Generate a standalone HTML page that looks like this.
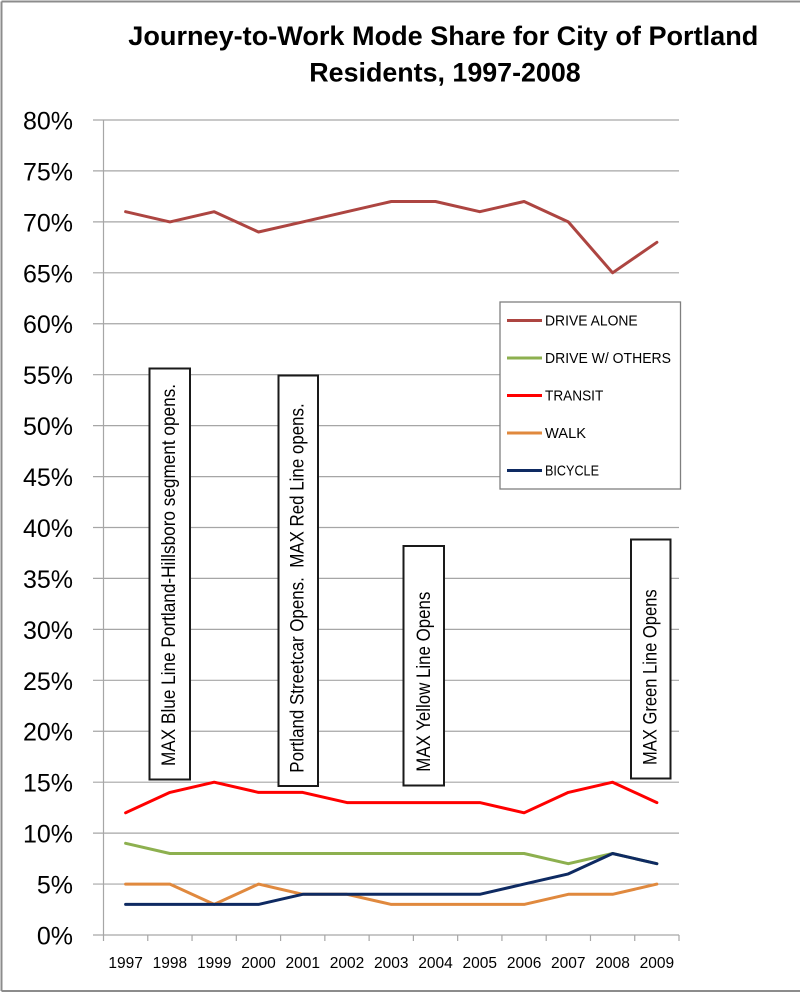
<!DOCTYPE html>
<html>
<head>
<meta charset="utf-8">
<style>
html,body{margin:0;padding:0;background:#fff;}
svg{display:block;}
text{font-family:"Liberation Sans",sans-serif;fill:#000;}
</style>
</head>
<body>
<svg width="800" height="993" viewBox="0 0 800 993" xmlns="http://www.w3.org/2000/svg">
<rect x="0" y="0" width="800" height="993" fill="#fff"/>
<!-- outer frame -->
<line x1="1.5" y1="1.5" x2="800" y2="1.5" stroke="#8c8c8c" stroke-width="2"/>
<line x1="1.5" y1="1.5" x2="1.5" y2="991" stroke="#8c8c8c" stroke-width="2"/>
<line x1="1.5" y1="991" x2="800" y2="991" stroke="#8c8c8c" stroke-width="2"/>

<!-- title -->
<text x="128.3" y="45" font-size="27" font-weight="bold" textLength="630" lengthAdjust="spacingAndGlyphs">Journey-to-Work Mode Share for City of Portland</text>
<text x="309.3" y="81.7" font-size="27" font-weight="bold" textLength="271.4" lengthAdjust="spacingAndGlyphs">Residents, 1997-2008</text>

<!-- gridlines -->
<g stroke="#a6a6a6" stroke-width="1.2">
<line x1="93" y1="120" x2="679" y2="120"/>
<line x1="93" y1="170.9" x2="679" y2="170.9"/>
<line x1="93" y1="221.9" x2="679" y2="221.9"/>
<line x1="93" y1="272.8" x2="679" y2="272.8"/>
<line x1="93" y1="323.75" x2="679" y2="323.75"/>
<line x1="93" y1="374.7" x2="679" y2="374.7"/>
<line x1="93" y1="425.6" x2="679" y2="425.6"/>
<line x1="93" y1="476.6" x2="679" y2="476.6"/>
<line x1="93" y1="527.5" x2="679" y2="527.5"/>
<line x1="93" y1="578.4" x2="679" y2="578.4"/>
<line x1="93" y1="629.4" x2="679" y2="629.4"/>
<line x1="93" y1="680.3" x2="679" y2="680.3"/>
<line x1="93" y1="731.25" x2="679" y2="731.25"/>
<line x1="93" y1="782.2" x2="679" y2="782.2"/>
<line x1="93" y1="833.1" x2="679" y2="833.1"/>
<line x1="93" y1="884.06" x2="679" y2="884.06"/>
<line x1="93" y1="935" x2="679" y2="935"/>
</g>
<!-- axes -->
<g stroke="#a6a6a6" stroke-width="1.2">
<line x1="103.5" y1="120" x2="103.5" y2="941"/>
<line x1="147.77" y1="935" x2="147.77" y2="941"/>
<line x1="192.04" y1="935" x2="192.04" y2="941"/>
<line x1="236.31" y1="935" x2="236.31" y2="941"/>
<line x1="280.58" y1="935" x2="280.58" y2="941"/>
<line x1="324.85" y1="935" x2="324.85" y2="941"/>
<line x1="369.12" y1="935" x2="369.12" y2="941"/>
<line x1="413.39" y1="935" x2="413.39" y2="941"/>
<line x1="457.66" y1="935" x2="457.66" y2="941"/>
<line x1="501.93" y1="935" x2="501.93" y2="941"/>
<line x1="546.2" y1="935" x2="546.2" y2="941"/>
<line x1="590.47" y1="935" x2="590.47" y2="941"/>
<line x1="634.74" y1="935" x2="634.74" y2="941"/>
<line x1="679" y1="935" x2="679" y2="941"/>
</g>

<!-- y labels -->
<g font-size="25" text-anchor="end">
<text x="73" y="129.5">80%</text>
<text x="73" y="180.4">75%</text>
<text x="73" y="231.4">70%</text>
<text x="73" y="282.3">65%</text>
<text x="73" y="333.2">60%</text>
<text x="73" y="384.2">55%</text>
<text x="73" y="435.1">50%</text>
<text x="73" y="486.1">45%</text>
<text x="73" y="537">40%</text>
<text x="73" y="587.9">35%</text>
<text x="73" y="638.9">30%</text>
<text x="73" y="689.8">25%</text>
<text x="73" y="740.7">20%</text>
<text x="73" y="791.7">15%</text>
<text x="73" y="842.6">10%</text>
<text x="73" y="893.6">5%</text>
<text x="73" y="944.5">0%</text>
</g>

<!-- x labels -->
<g font-size="15.5" text-anchor="middle">
<text x="125.6" y="968">1997</text>
<text x="169.9" y="968">1998</text>
<text x="214.2" y="968">1999</text>
<text x="258.5" y="968">2000</text>
<text x="302.7" y="968">2001</text>
<text x="347" y="968">2002</text>
<text x="391.3" y="968">2003</text>
<text x="435.5" y="968">2004</text>
<text x="479.8" y="968">2005</text>
<text x="524.1" y="968">2006</text>
<text x="568.3" y="968">2007</text>
<text x="612.6" y="968">2008</text>
<text x="656.9" y="968">2009</text>
</g>

<!-- series -->
<g fill="none" stroke-width="3" stroke-linejoin="round" stroke-linecap="round">
<polyline stroke="#ad4541" points="125.6,211.7 169.9,221.9 214.2,211.7 258.5,232.0 302.7,221.9 347.0,211.7 391.3,201.5 435.5,201.5 479.8,211.7 524.1,201.5 568.3,221.9 612.6,272.8 656.9,242.3"/>
<polyline stroke="#8db04f" points="125.6,843.3 169.9,853.5 214.2,853.5 258.5,853.5 302.7,853.5 347.0,853.5 391.3,853.5 435.5,853.5 479.8,853.5 524.1,853.5 568.3,863.7 612.6,853.5 656.9,863.7"/>
<polyline stroke="#ff0000" points="125.6,812.8 169.9,792.4 214.2,782.2 258.5,792.4 302.7,792.4 347.0,802.6 391.3,802.6 435.5,802.6 479.8,802.6 524.1,812.8 568.3,792.4 612.6,782.2 656.9,802.6"/>
<polyline stroke="#e0893e" points="125.6,884.1 169.9,884.1 214.2,904.4 258.5,884.1 302.7,894.3 347.0,894.3 391.3,904.4 435.5,904.4 479.8,904.4 524.1,904.4 568.3,894.3 612.6,894.3 656.9,884.1"/>
<polyline stroke="#0e2a62" points="125.6,904.4 169.9,904.4 214.2,904.4 258.5,904.4 302.7,894.3 347.0,894.3 391.3,894.3 435.5,894.3 479.8,894.3 524.1,884.1 568.3,873.9 612.6,853.5 656.9,863.7"/>
</g>

<!-- legend -->
<rect x="500" y="302" width="180.5" height="187" fill="#fff" stroke="#7f7f7f" stroke-width="1.3"/>
<g stroke-width="3">
<line x1="507" y1="320.5" x2="542" y2="320.5" stroke="#ad4541"/>
<line x1="507" y1="358" x2="542" y2="358" stroke="#8db04f"/>
<line x1="507" y1="395.5" x2="542" y2="395.5" stroke="#ff0000"/>
<line x1="507" y1="433" x2="542" y2="433" stroke="#e0893e"/>
<line x1="507" y1="470.5" x2="542" y2="470.5" stroke="#0e2a62"/>
</g>
<g font-size="14.5">
<text x="545" y="325.7" textLength="92.7" lengthAdjust="spacingAndGlyphs">DRIVE ALONE</text>
<text x="545" y="363.2" textLength="126" lengthAdjust="spacingAndGlyphs">DRIVE W/ OTHERS</text>
<text x="545" y="400.7" textLength="58.3" lengthAdjust="spacingAndGlyphs">TRANSIT</text>
<text x="545" y="438.2" textLength="41" lengthAdjust="spacingAndGlyphs">WALK</text>
<text x="545" y="475.7" textLength="54" lengthAdjust="spacingAndGlyphs">BICYCLE</text>
</g>

<!-- annotation boxes -->
<g fill="#fff" stroke="#1a1a1a" stroke-width="2">
<rect x="149.5" y="368.5" width="40.5" height="411"/>
<rect x="278.5" y="375.5" width="39.5" height="410.5"/>
<rect x="403.5" y="546" width="40.5" height="239.5"/>
<rect x="631" y="539.5" width="39.5" height="239"/>
</g>
<g font-size="19.5">
<text transform="translate(175,766) rotate(-90)" textLength="382" lengthAdjust="spacingAndGlyphs">MAX Blue Line Portland-Hillsboro segment opens.</text>
<text transform="translate(303.3,772.7) rotate(-90)" textLength="369.4" lengthAdjust="spacingAndGlyphs" xml:space="preserve">Portland Streetcar Opens.  MAX Red Line opens.</text>
<text transform="translate(430,771.7) rotate(-90)" textLength="180" lengthAdjust="spacingAndGlyphs">MAX Yellow Line Opens</text>
<text transform="translate(656.7,765) rotate(-90)" textLength="175.7" lengthAdjust="spacingAndGlyphs">MAX Green Line Opens</text>
</g>
</svg>
</body>
</html>
